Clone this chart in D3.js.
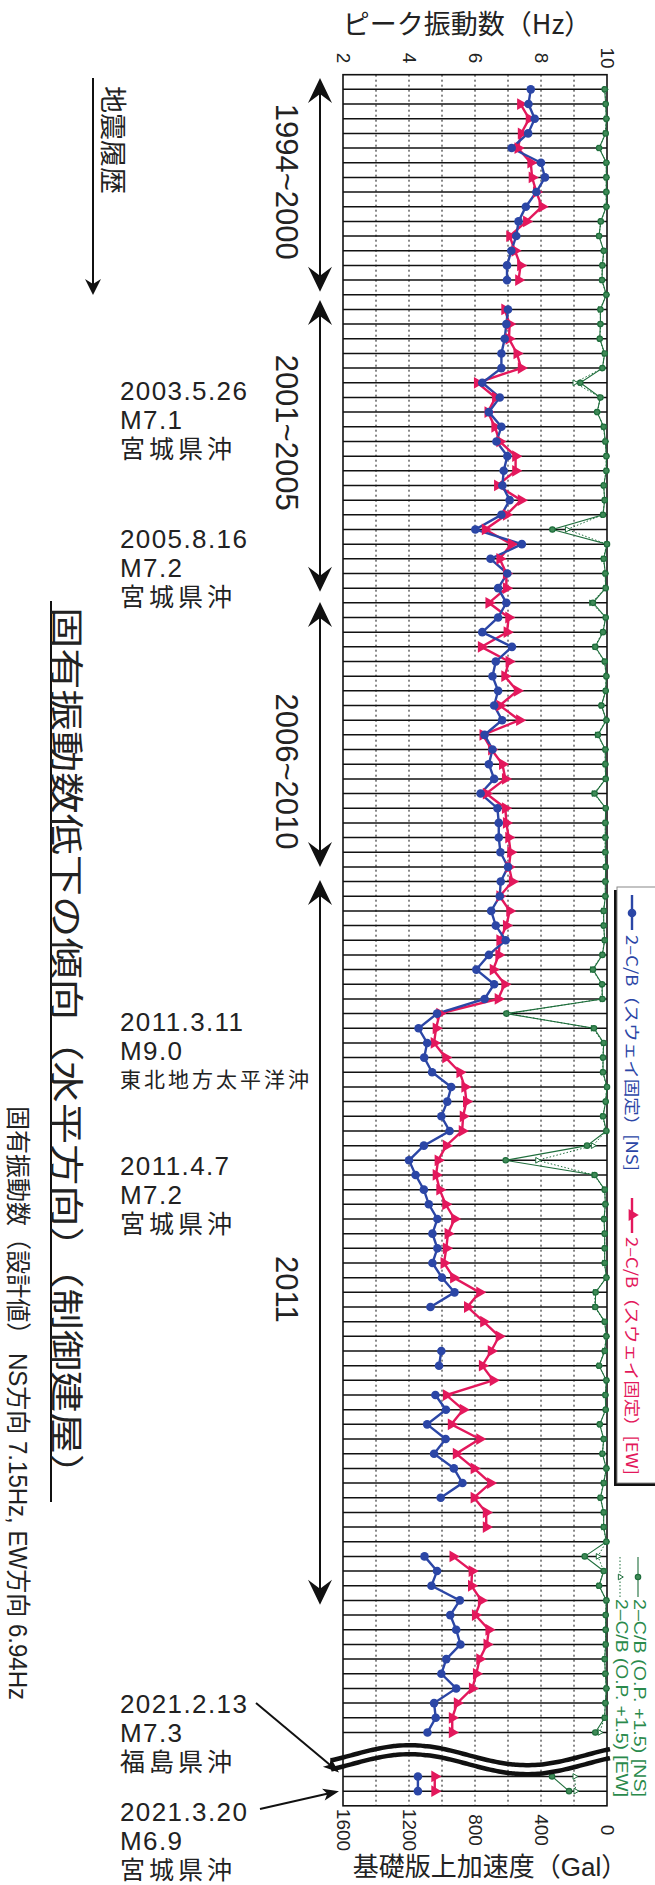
<!DOCTYPE html>
<html><head><meta charset="utf-8">
<script src="https://cdn.jsdelivr.net/npm/d3@7"></script>
<style>body{margin:0;background:#fff}svg{display:block}</style>
</head><body>
<svg id="c" width="655" height="1885"></svg>
<script>
// ---- data (row index 1..117; rows 114,115 hidden by the axis break) ----
const NS_FREQ = [
7.69,7.62,7.81,7.61,7.11,8.00,8.12,7.86,7.54,7.32,7.25,7.10,6.97,6.97,null,7.00,6.95,6.90,
6.80,6.80,6.22,6.75,6.42,6.80,6.65,6.98,6.87,6.83,7.05,6.80,6.01,7.42,6.47,6.98,6.70,6.95,6.70,6.22,
7.12,6.63,6.53,6.70,6.58,6.82,6.29,6.53,6.42,6.58,6.17,6.68,6.72,6.72,6.77,7.00,6.78,6.75,6.49,6.63,6.93,6.42,6.04,
6.58,6.29,4.85,4.29,4.55,4.46,4.70,5.28,5.16,4.98,5.23,4.45,4.00,4.20,4.45,4.60,4.86,4.71,4.86,4.71,5.00,5.38,4.65,
null,null,4.98,4.91,null,4.80,5.12,4.55,5.11,4.76,5.36,5.62,4.96,null,null,null,4.47,4.85,4.68,5.54,5.25,5.43,5.56,5.13,4.98,5.43,4.76,4.81,4.56,
null,null,4.27,4.27];
const EW_FREQ = [
null,7.38,7.64,7.40,7.30,7.69,7.73,7.86,8.03,7.56,7.05,7.21,7.38,7.32,null,6.90,7.05,7.03,
7.27,7.40,6.07,6.62,6.39,6.60,6.75,7.23,7.23,6.68,7.40,6.95,6.31,7.10,6.75,6.95,6.95,6.42,7.02,6.97,
6.19,7.03,6.90,7.28,6.75,7.35,6.24,6.50,6.83,6.92,6.34,6.92,6.95,7.02,7.08,7.03,7.13,6.75,7.05,6.95,6.75,6.72,6.55,
6.90,6.70,4.93,4.82,4.76,5.11,5.54,5.69,5.74,5.64,5.61,5.13,4.88,4.82,4.93,5.11,5.38,5.18,5.13,5.06,5.35,6.14,5.77,
6.26,6.73,6.49,6.22,6.55,5.13,5.64,5.28,6.14,5.43,5.97,6.47,5.97,6.34,6.34,null,5.33,5.91,5.89,6.19,6.01,6.42,6.36,6.14,6.04,5.92,5.46,5.31,5.31,
null,null,4.78,4.78];
const NS_ACC = [
14,8,4,8,48,4,4,4,4,38,48,20,28,30,4,40,40,44,
14,28,162,40,60,20,10,4,4,20,14,24,331,0,20,10,8,85,8,24,
71,14,4,8,34,4,55,10,10,8,75,8,10,10,10,8,10,10,20,20,14,28,85,
30,28,610,79,20,24,24,0,8,24,4,121,614,75,14,10,18,14,14,14,4,69,71,
14,4,14,48,4,10,8,44,20,28,4,20,40,20,20,4,135,20,48,4,8,8,8,14,10,4,10,14,71,
null,null,333,230];
const EW_ACC = [
12,8,4,10,46,4,4,6,4,36,50,18,28,32,4,42,38,44,
16,26,196,40,58,22,10,4,6,20,14,26,242,2,22,10,10,95,8,26,
75,14,6,8,34,4,60,10,12,8,80,8,10,10,12,8,10,10,22,20,14,30,90,
30,30,600,85,22,24,26,2,8,26,6,85,422,80,14,10,18,14,14,16,4,72,75,
14,4,16,48,4,10,8,44,20,28,4,22,40,20,22,4,55,20,50,4,8,8,10,14,10,4,10,16,44,
null,null,196,190];
const FREQ_TICKS = [2,4,6,8,10];
const ACC_TICKS = [0,400,800,1200,1600];
const PERIODS = [
  {label:"1994~2000", r0:0.22, r1:14.8, lr:7.3},
  {label:"2001~2005", r0:15.35, r1:35.25, lr:24.4},
  {label:"2006~2010", r0:35.95, r1:54.0, lr:47.5},
  {label:"2011", r0:54.9, r1:104.3, lr:82.8}
];
const EVENTS = [
  {lines:["2003.5.26","M7.1","宮城県沖"], y:400},
  {lines:["2005.8.16","M7.2","宮城県沖"], y:548},
  {lines:["2011.3.11","M9.0","東北地方太平洋沖"], y:1031, small:true},
  {lines:["2011.4.7","M7.2","宮城県沖"], y:1175},
  {lines:["2021.2.13","M7.3","福島県沖"], y:1713, arrowTo:116},
  {lines:["2021.3.20","M6.9","宮城県沖"], y:1821, arrowTo:117}
];

const BLUE="#2b46a6", RED="#e3185c", GREEN="#1f6e3c", GTEXT="#2a8a4c";
const LAT="'Liberation Sans', Arial, 'Noto Sans CJK JP', sans-serif";
const CJK="'Noto Sans CJK JP', 'Liberation Sans', sans-serif";

const svg = d3.select("#c");
const yRow = d3.scaleLinear().domain([0,118]).range([74.7,1805.8]);
const xF = d3.scaleLinear().domain([2,10]).range([343,607]);
const xA = d3.scaleLinear().domain([0,1600]).range([607,343]);

const rows = d3.range(1,118).map((i)=>({i, ns:NS_FREQ[i-1], ew:EW_FREQ[i-1], na:NS_ACC[i-1], ea:EW_ACC[i-1]}));

// grid: dotted verticals
svg.append("g").selectAll("line").data(d3.range(3,10)).join("line")
  .attr("x1",d=>xF(d)).attr("x2",d=>xF(d)).attr("y1",yRow(0)).attr("y2",yRow(118))
  .attr("stroke","#111").attr("stroke-width",1).attr("stroke-dasharray","2,3");
// row lines
svg.append("g").selectAll("line").data(rows.filter(d=>d.i!==114&&d.i!==115)).join("line")
  .attr("x1",xF(2)).attr("x2",xF(10)).attr("y1",d=>yRow(d.i)).attr("y2",d=>yRow(d.i))
  .attr("stroke","#111").attr("stroke-width",1.5);
// frame
svg.append("rect").attr("x",xF(2)).attr("y",yRow(0)).attr("width",xF(10)-xF(2)).attr("height",yRow(118)-yRow(0))
  .attr("fill","none").attr("stroke","#111").attr("stroke-width",1.6);

// axes
const topAx = svg.append("g").attr("transform","translate(0,58)")
  .call(d3.axisTop(xF).tickValues(FREQ_TICKS).tickSize(0).tickFormat(d3.format("d")));
topAx.select(".domain").remove();
topAx.selectAll("text").attr("x",0).attr("y",0).attr("dy","0.35em").attr("text-anchor","middle")
  .attr("transform","rotate(90)").attr("font-size",19).attr("font-family",LAT).attr("fill","#222");
const botAx = svg.append("g").attr("transform","translate(0,1830)")
  .call(d3.axisBottom(xA).tickValues(ACC_TICKS).tickSize(0).tickFormat(d3.format("d")));
botAx.select(".domain").remove();
botAx.selectAll("text").attr("x",0).attr("y",0).attr("dy","0.35em").attr("text-anchor","middle")
  .attr("transform","rotate(90)").attr("font-size",19).attr("font-family",LAT).attr("fill","#222");

svg.append("text").attr("x",467).attr("y",34).attr("text-anchor","middle")
  .attr("font-family",CJK).attr("font-size",27).attr("fill","#222").text("ピーク振動数（Hz）");
svg.append("text").attr("x",490).attr("y",1876).attr("text-anchor","middle")
  .attr("font-family",LAT).attr("font-size",26).attr("fill","#222").text("基礎版上加速度（Gal）");

// series
const accRows = rows.filter(d=>d.i<=113), accRows2 = rows.filter(d=>d.i>=116);
const lnA = (k)=>d3.line().defined(d=>d[k]!=null).x(d=>xA(d[k])).y(d=>yRow(d.i));
const lnF = (k)=>d3.line().defined(d=>d[k]!=null).x(d=>xF(d[k])).y(d=>yRow(d.i));
[accRows, accRows2].forEach(seg=>{
  svg.append("path").attr("d",lnA("ea")(seg)).attr("fill","none").attr("stroke",GREEN).attr("stroke-width",1).attr("stroke-dasharray","1.5,2");
  svg.append("path").attr("d",lnA("na")(seg)).attr("fill","none").attr("stroke",GREEN).attr("stroke-width",1.1);
});
const tri = d3.symbol().type(d3.symbolTriangle);
svg.append("g").selectAll("path").data(rows.filter(d=>d.ea!=null)).join("path")
  .attr("d",tri.size(14)()).attr("transform",d=>`translate(${xA(d.ea)},${yRow(d.i)}) rotate(90)`)
  .attr("fill","#fff").attr("stroke",GREEN).attr("stroke-width",1);
svg.append("g").selectAll("circle").data(rows.filter(d=>d.na!=null)).join("circle")
  .attr("cx",d=>xA(d.na)).attr("cy",d=>yRow(d.i)).attr("r",2.7)
  .attr("fill","#3f8a57").attr("stroke",GREEN).attr("stroke-width",1.2);

svg.append("path").attr("d",lnF("ew")(rows)).attr("fill","none").attr("stroke",RED).attr("stroke-width",2.4);
svg.append("path").attr("d",lnF("ns")(rows)).attr("fill","none").attr("stroke",BLUE).attr("stroke-width",2.4);
svg.append("g").selectAll("path").data(rows.filter(d=>d.ew!=null)).join("path")
  .attr("d",d3.symbol().type(d3.symbolTriangle).size(60)()).attr("transform",d=>`translate(${xF(d.ew)},${yRow(d.i)}) rotate(90)`)
  .attr("fill",RED);
svg.append("g").selectAll("circle").data(rows.filter(d=>d.ns!=null)).join("circle")
  .attr("cx",d=>xF(d.ns)).attr("cy",d=>yRow(d.i)).attr("r",4.3).attr("fill",BLUE);

// axis break
const wave = (off)=>d3.line().curve(d3.curveBasis)(d3.range(331,613,3).map(x=>[x, yRow(114.55)+off-10*Math.cos(2*Math.PI*(x-410)/234)]));
[0,9].forEach(o=>svg.append("path").attr("d",wave(o)).attr("fill","none").attr("stroke","#111").attr("stroke-width",4.5));

// arrowheads helper (tip at 0,0 pointing up)
const stealth = (w,l,n)=>`M0,0 L${-w},${l} L0,${l-n} L${w},${l} Z`;

// period double arrows
const pg = svg.append("g");
PERIODS.forEach(p=>{
  const y0=yRow(p.r0), y1=yRow(p.r1), x=320;
  pg.append("line").attr("x1",x).attr("x2",x).attr("y1",y0+5).attr("y2",y1-5).attr("stroke","#111").attr("stroke-width",2);
  pg.append("path").attr("d",stealth(12,25,9)).attr("transform",`translate(${x},${y0})`).attr("fill","#111");
  pg.append("path").attr("d",stealth(12,25,9)).attr("transform",`translate(${x},${y1}) rotate(180)`).attr("fill","#111");
  pg.append("text").attr("transform",`translate(286,${yRow(p.lr)}) rotate(90)`).attr("text-anchor","middle")
    .attr("dominant-baseline","central").attr("font-family",LAT).attr("font-size",31).attr("fill","#222").text(p.label);
});

// 地震履歴 arrow
svg.append("line").attr("x1",93).attr("x2",93).attr("y1",78).attr("y2",285).attr("stroke","#111").attr("stroke-width",2);
svg.append("path").attr("d",stealth(8,16,5)).attr("transform","translate(93,295) rotate(180)").attr("fill","#111");
svg.append("text").attr("transform","translate(114,140) rotate(90)").attr("text-anchor","middle").attr("dominant-baseline","central")
  .attr("font-family",CJK).attr("font-size",27).attr("fill","#222").text("地震履歴");

// events: three stacked lines each
EVENTS.forEach(e=>{
  const g = svg.append("g").attr("fill","#222").attr("font-family",LAT);
  g.append("text").attr("x",120).attr("y",e.y).attr("font-size",26).attr("letter-spacing",1.4).text(e.lines[0]);
  g.append("text").attr("x",120).attr("y",e.y+29).attr("font-size",26).attr("letter-spacing",1.4).text(e.lines[1]);
  g.append("text").attr("x",120).attr("y",e.y+(e.small?56:58)).attr("font-size",e.small?21:25)
    .attr("letter-spacing",e.small?3:4).text(e.lines[2]);
  if(e.arrowTo){
    const tx=339, ty=yRow(e.arrowTo)-(e.arrowTo===116?4:0);
    const sx=e.arrowTo===116?256:260, sy=e.arrowTo===116?e.y-10:e.y-12;
    const ang=Math.atan2(ty-sy,tx-sx)*180/Math.PI;
    const len=Math.hypot(tx-sx,ty-sy);
    const ag=svg.append("g").attr("transform",`translate(${sx},${sy}) rotate(${ang})`);
    ag.append("line").attr("x1",0).attr("x2",len-10).attr("y1",0).attr("y2",0).attr("stroke","#111").attr("stroke-width",2);
    ag.append("path").attr("d",stealth(6,16,4)).attr("transform",`translate(${len},0) rotate(90)`).attr("fill","#111");
  }
});

// big title (rotated) with underline
svg.append("line").attr("x1",51).attr("x2",51).attr("y1",601).attr("y2",1502).attr("stroke","#111").attr("stroke-width",2);
svg.append("text").attr("transform","translate(68,1051) rotate(90)").attr("text-anchor","middle").attr("dominant-baseline","central")
  .attr("font-family",CJK).attr("font-size",34).attr("fill","#222")
  .attr("textLength",888).attr("lengthAdjust","spacingAndGlyphs").text("固有振動数低下の傾向（水平方向）（制御建屋）");
svg.append("text").attr("transform","translate(18,1403) rotate(90)").attr("text-anchor","middle").attr("dominant-baseline","central")
  .attr("font-family",LAT).attr("font-size",25).attr("fill","#222")
  .attr("textLength",594).attr("lengthAdjust","spacingAndGlyphs").text("固有振動数（設計値） NS方向  7.15Hz, EW方向  6.94Hz");

// legend box
svg.append("rect").attr("x",614).attr("y",890).attr("width",50).attr("height",596).attr("fill","#111");
svg.append("rect").attr("x",617).attr("y",887).attr("width",50).attr("height",596).attr("fill","#fff").attr("stroke","#888").attr("stroke-width",1);
const lg = svg.append("g");
lg.append("line").attr("x1",632).attr("x2",632).attr("y1",895).attr("y2",930).attr("stroke",BLUE).attr("stroke-width",2.4);
lg.append("circle").attr("cx",632).attr("cy",913).attr("r",4.3).attr("fill",BLUE);
lg.append("text").attr("transform","translate(633,935) rotate(90)").attr("dominant-baseline","central")
  .attr("font-family",CJK).attr("font-size",16).attr("fill",BLUE).attr("textLength",236).attr("lengthAdjust","spacingAndGlyphs").text("2–C/B（スウェイ固定）[NS]");
lg.append("line").attr("x1",632).attr("x2",632).attr("y1",1198).attr("y2",1233).attr("stroke",RED).attr("stroke-width",2.4);
lg.append("path").attr("d",d3.symbol().type(d3.symbolTriangle).size(60)()).attr("transform","translate(632,1215) rotate(90)").attr("fill",RED);
lg.append("text").attr("transform","translate(633,1237) rotate(90)").attr("dominant-baseline","central")
  .attr("font-family",CJK).attr("font-size",16).attr("fill",RED).attr("textLength",238).attr("lengthAdjust","spacingAndGlyphs").text("2–C/B（スウェイ固定）[EW]");
// green legend
lg.append("line").attr("x1",638).attr("x2",638).attr("y1",1557).attr("y2",1597).attr("stroke",GREEN).attr("stroke-width",1.1);
lg.append("circle").attr("cx",638).attr("cy",1577).attr("r",2.7).attr("fill","#3f8a57").attr("stroke",GREEN).attr("stroke-width",1.2);
lg.append("line").attr("x1",620).attr("x2",620).attr("y1",1557).attr("y2",1597).attr("stroke",GREEN).attr("stroke-width",1).attr("stroke-dasharray","1.5,2");
lg.append("path").attr("d",tri.size(14)()).attr("transform","translate(620,1577) rotate(90)").attr("fill","#fff").attr("stroke",GREEN);
lg.append("text").attr("transform","translate(639,1599) rotate(90)").attr("dominant-baseline","central")
  .attr("font-family",LAT).attr("font-size",16).attr("fill",GTEXT).attr("textLength",198).attr("lengthAdjust","spacingAndGlyphs").text("2–C/B (O.P. +1.5) [NS]");
lg.append("text").attr("transform","translate(621,1599) rotate(90)").attr("dominant-baseline","central")
  .attr("font-family",LAT).attr("font-size",16).attr("fill",GTEXT).attr("textLength",198).attr("lengthAdjust","spacingAndGlyphs").text("2–C/B (O.P. +1.5) [EW]");
</script>
</body></html>
